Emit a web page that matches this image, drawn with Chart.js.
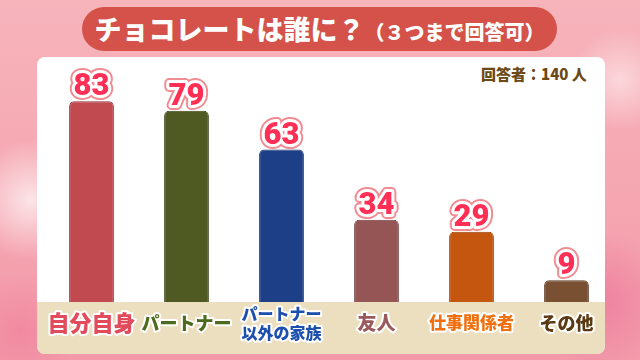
<!DOCTYPE html>
<html>
<head>
<meta charset="utf-8">
<script src="https://cdn.jsdelivr.net/npm/chart.js@4"></script>
<style>
  html, body { margin: 0; padding: 0; }
  body {
    width: 640px; height: 360px; overflow: hidden; position: relative;
    font-family: "Noto Sans CJK JP", sans-serif;
    background:
      radial-gradient(circle at 30px 200px, rgba(255,255,255,0.7), rgba(255,255,255,0) 60px),
      radial-gradient(circle at 620px 80px, rgba(255,255,255,0.5), rgba(255,255,255,0) 50px),
      radial-gradient(circle at 600px 300px, rgba(235,110,150,0.6), rgba(235,110,150,0) 70px),
      radial-gradient(circle at 20px 330px, rgba(240,120,150,0.5), rgba(240,120,150,0) 60px),
      linear-gradient(180deg, #f7b4bb 0%, #f5a5b0 60%, #f29aaa 100%);
  }
  #panel {
    position: absolute; left: 37px; top: 57px; width: 568px; height: 297px;
    background: #fff; border-radius: 8px; overflow: hidden;
  }
  #band {
    position: absolute; left: 0; right: 0; bottom: 0; height: 52px; background: #ebdfc0;
  }
  #banner {
    position: absolute; left: 82px; top: 7px; width: 475px; height: 44px;
    background: #d4524a; border-radius: 22px; color: #fff;
    text-align: center; line-height: 44px; font-weight: 900; white-space: nowrap;
  }
  #banner .big { font-size: 27px; }
  #banner .small { font-size: 20px; }
  #total {
    position: absolute; left: 481px; top: 63px; color: #6b4a18;
    font-size: 15px; font-weight: 900; white-space: nowrap;
  }
  canvas { position: absolute; left: 0; top: 0; }
</style>
</head>
<body>
<div id="panel"><div id="band"></div></div>
<div id="banner"><span class="big">チョコレートは誰に？</span><span class="small">（３つまで回答可）</span></div>
<div id="total">回答者：140 人</div>
<canvas id="chart" width="640" height="360"></canvas>
<script>
// datos
var categorias = [["自分自身"], ["パートナー"], ["パートナー", "以外の家族"], ["友人"], ["仕事関係者"], ["その他"]];
var valores = [83, 79, 63, 34, 29, 9];
var coloresBarras = ["#c04a50", "#4f5a22", "#1d3f88", "#955555", "#c4560f", "#7a5033"];
var coloresBordes = ["#8e3038", "#3a4318", "#142e66", "#6e3c3c", "#93400a", "#5a3a22"];
var coloresTexto = ["#e24b5b", "#4d6b1c", "#1d4fae", "#9a5a5c", "#f0700f", "#5a3812"];
var tamanoTexto = [22, 18, 16, 19, 17, 18];

// etiquetas de valor encima de las barras
var etiquetasValor = {
    id: "etiquetasValor",
    afterDatasetsDraw: function (chart) {
        var ctx = chart.ctx;
        var meta = chart.getDatasetMeta(0);
        ctx.save();
        ctx.font = "900 31px Roboto, sans-serif";
        ctx.textAlign = "center";
        ctx.textBaseline = "alphabetic";
        ctx.lineJoin = "round";
        meta.data.forEach(function (bar, i) {
            var y = bar.y - 6;
            var t = String(valores[i]);
            ctx.strokeStyle = "#f08c92";
            ctx.lineWidth = 10;
            ctx.strokeText(t, bar.x, y);
            ctx.strokeStyle = "#ffffff";
            ctx.lineWidth = 6;
            ctx.strokeText(t, bar.x, y);
            ctx.fillStyle = "#ff2f55";
            ctx.fillText(t, bar.x, y);
        });
        ctx.restore();
    }
};

// nombres de categoria en la franja inferior
var etiquetasCategoria = {
    id: "etiquetasCategoria",
    afterDraw: function (chart) {
        var ctx = chart.ctx;
        var x = chart.scales.x;
        ctx.save();
        ctx.textAlign = "center";
        ctx.textBaseline = "middle";
        ctx.lineJoin = "round";
        categorias.forEach(function (lineas, i) {
            var cx = x.getPixelForValue(i);
            ctx.font = "900 " + tamanoTexto[i] + "px 'Noto Sans CJK JP', sans-serif";
            var alto = tamanoTexto[i] + 3;
            var y0 = 323 - (lineas.length - 1) * alto / 2;
            lineas.forEach(function (l, j) {
                var y = y0 + j * alto;
                ctx.strokeStyle = "#ffffff";
                ctx.lineWidth = 4;
                ctx.strokeText(l, cx, y);
                ctx.fillStyle = coloresTexto[i];
                ctx.fillText(l, cx, y);
            });
        });
        ctx.restore();
    }
};

var chart = new Chart(document.getElementById("chart").getContext("2d"), {
    type: "bar",
    data: {
        labels: categorias,
        datasets: [{
            data: valores,
            backgroundColor: coloresBarras,
            borderColor: coloresBordes,
            borderWidth: 1,
            borderRadius: { topLeft: 5, topRight: 5 },
            borderSkipped: "bottom",
            barPercentage: 0.62,
            categoryPercentage: 0.76
        }]
    },
    options: {
        responsive: false,
        animation: false,
        layout: { padding: { left: 44, right: 26, top: 60, bottom: 58 } },
        plugins: { legend: { display: false }, tooltip: { enabled: false } },
        scales: {
            x: { display: false },
            y: { display: false, min: 0, max: 100 }
        }
    },
    plugins: [etiquetasValor, etiquetasCategoria]
});
</script>
</body>
</html>
